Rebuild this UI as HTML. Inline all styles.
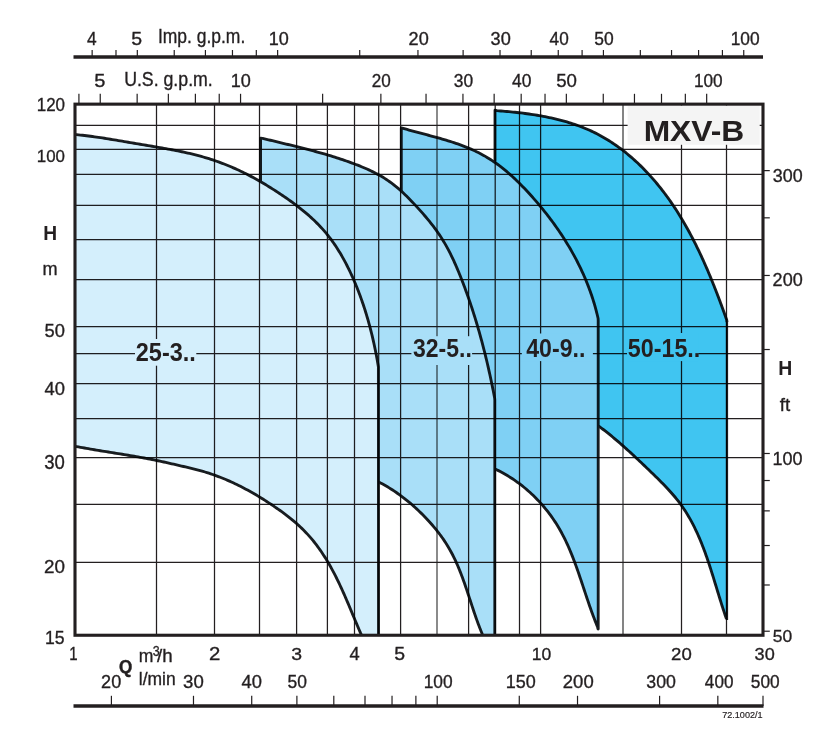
<!DOCTYPE html>
<html><head><meta charset="utf-8"><style>
html,body{margin:0;padding:0;width:832px;height:740px;overflow:hidden;background:#fff}
svg text{font-family:"Liberation Sans",sans-serif}
svg{will-change:transform}
</style></head><body>
<svg width="832" height="740" viewBox="0 0 832 740" style="position:absolute;left:0;top:0">
<rect x="0" y="0" width="832" height="740" fill="#ffffff"/>
<path fill="#40c5f1" d="M495.00,110.20 L496.97,110.67 L498.96,110.82 L500.95,110.98 L502.94,111.14 L504.94,111.31 L506.95,111.49 L508.95,111.67 L510.96,111.87 L512.97,112.07 L514.99,112.28 L517.00,112.50 L519.02,112.72 L521.03,112.96 L523.05,113.21 L525.07,113.47 L527.09,113.74 L529.11,114.02 L531.12,114.31 L533.14,114.62 L535.16,114.93 L537.17,115.26 L539.18,115.60 L541.19,115.96 L543.19,116.33 L545.20,116.71 L547.20,117.11 L549.19,117.53 L551.19,117.96 L553.17,118.40 L555.16,118.86 L557.13,119.34 L559.11,119.83 L561.07,120.34 L563.03,120.87 L564.99,121.42 L566.94,121.98 L568.88,122.57 L570.81,123.17 L572.73,123.79 L574.65,124.43 L576.56,125.09 L578.46,125.77 L580.35,126.48 L582.23,127.20 L584.11,127.95 L585.97,128.72 L587.82,129.51 L589.66,130.32 L591.49,131.15 L593.31,132.01 L595.11,132.90 L596.91,133.80 L598.69,134.73 L600.46,135.68 L602.22,136.66 L603.96,137.66 L605.70,138.68 L607.42,139.72 L609.13,140.78 L610.82,141.86 L612.51,142.96 L614.18,144.08 L615.84,145.23 L617.49,146.39 L619.12,147.57 L620.75,148.77 L622.36,149.98 L623.95,151.22 L625.54,152.47 L627.11,153.74 L628.67,155.03 L630.21,156.33 L631.75,157.65 L633.27,158.98 L634.77,160.33 L636.27,161.70 L637.75,163.08 L639.21,164.47 L640.67,165.88 L642.11,167.30 L643.54,168.74 L644.95,170.18 L646.35,171.64 L647.74,173.11 L649.11,174.60 L650.47,176.09 L651.82,177.60 L653.15,179.12 L654.47,180.65 L655.78,182.19 L657.07,183.74 L658.35,185.30 L659.62,186.87 L660.88,188.45 L662.12,190.04 L663.35,191.64 L664.57,193.25 L665.78,194.87 L666.97,196.50 L668.16,198.13 L669.33,199.78 L670.49,201.44 L671.64,203.10 L672.77,204.77 L673.90,206.45 L675.01,208.14 L676.12,209.84 L677.21,211.55 L678.29,213.26 L679.36,214.98 L680.42,216.70 L681.47,218.44 L682.51,220.18 L683.54,221.93 L684.56,223.68 L685.57,225.44 L686.57,227.21 L687.56,228.98 L688.54,230.76 L689.51,232.55 L690.47,234.34 L691.43,236.13 L692.37,237.93 L693.30,239.74 L694.23,241.55 L695.15,243.37 L696.05,245.19 L696.95,247.01 L697.84,248.84 L698.73,250.67 L699.60,252.51 L700.47,254.35 L701.33,256.19 L702.18,258.04 L703.02,259.89 L703.86,261.75 L704.68,263.60 L705.51,265.46 L706.32,267.33 L707.13,269.19 L707.93,271.06 L708.72,272.93 L709.50,274.80 L710.28,276.67 L711.06,278.54 L711.82,280.42 L712.58,282.29 L713.34,284.17 L714.09,286.05 L714.83,287.93 L715.57,289.81 L716.30,291.69 L717.02,293.57 L717.74,295.45 L718.46,297.33 L719.17,299.21 L719.87,301.09 L720.57,302.97 L721.27,304.84 L721.96,306.72 L722.64,308.60 L723.33,310.47 L724.00,312.34 L724.68,314.22 L725.34,316.09 L726.01,317.95 L726.67,319.82 L727.00,322.00 L727.00,619.00 L726.50,619.00 L725.76,617.08 L725.14,615.19 L724.54,613.30 L723.93,611.40 L723.33,609.50 L722.73,607.59 L722.13,605.68 L721.54,603.76 L720.95,601.84 L720.36,599.91 L719.77,597.99 L719.17,596.06 L718.58,594.12 L717.99,592.19 L717.40,590.25 L716.81,588.31 L716.21,586.37 L715.61,584.43 L715.01,582.49 L714.40,580.55 L713.79,578.61 L713.18,576.67 L712.56,574.73 L711.94,572.80 L711.31,570.86 L710.68,568.93 L710.04,566.99 L709.39,565.06 L708.74,563.14 L708.07,561.22 L707.40,559.30 L706.72,557.38 L706.04,555.47 L705.34,553.57 L704.63,551.67 L703.91,549.77 L703.18,547.88 L702.44,546.00 L701.69,544.12 L700.93,542.25 L700.15,540.39 L699.36,538.53 L698.56,536.69 L697.74,534.85 L696.91,533.02 L696.06,531.19 L695.20,529.38 L694.32,527.58 L693.43,525.79 L692.52,524.00 L691.59,522.23 L690.64,520.47 L689.68,518.72 L688.70,516.98 L687.70,515.26 L686.68,513.54 L685.64,511.84 L684.58,510.15 L683.50,508.48 L682.40,506.82 L681.28,505.17 L680.14,503.54 L678.97,501.92 L677.78,500.31 L676.57,498.73 L675.33,497.16 L674.07,495.60 L672.79,494.06 L671.48,492.54 L670.15,491.03 L668.80,489.54 L667.43,488.06 L666.03,486.59 L664.63,485.14 L663.20,483.69 L661.76,482.26 L660.31,480.84 L658.84,479.42 L657.37,478.02 L655.88,476.62 L654.39,475.22 L652.89,473.84 L651.39,472.45 L649.88,471.07 L648.37,469.70 L646.86,468.32 L645.34,466.95 L643.83,465.58 L642.33,464.20 L640.82,462.83 L639.32,461.45 L637.83,460.08 L636.35,458.69 L634.87,457.31 L633.41,455.91 L631.95,454.52 L630.50,453.12 L629.06,451.73 L627.62,450.33 L626.17,448.94 L624.73,447.55 L623.29,446.16 L621.84,444.79 L620.38,443.42 L618.92,442.06 L617.44,440.72 L615.96,439.38 L614.46,438.06 L612.94,436.76 L611.41,435.48 L609.86,434.21 L608.28,432.96 L606.69,431.74 L605.07,430.54 L603.42,429.36 L601.75,428.21 L600.05,427.09 L598.20,426.10 L598.00,400.00 L495.00,400.00Z"/>
<path fill="#7fd0f4" d="M401.30,127.80 L403.26,128.36 L405.17,128.92 L407.09,129.47 L409.01,130.01 L410.94,130.55 L412.88,131.08 L414.82,131.61 L416.76,132.13 L418.71,132.65 L420.67,133.17 L422.62,133.69 L424.58,134.21 L426.54,134.73 L428.50,135.25 L430.47,135.77 L432.43,136.30 L434.40,136.84 L436.36,137.38 L438.32,137.92 L440.28,138.48 L442.24,139.04 L444.20,139.61 L446.15,140.19 L448.10,140.79 L450.05,141.39 L451.99,142.01 L453.92,142.65 L455.85,143.30 L457.78,143.97 L459.70,144.65 L461.61,145.35 L463.51,146.07 L465.40,146.80 L467.28,147.56 L469.15,148.34 L471.01,149.14 L472.86,149.96 L474.69,150.80 L476.51,151.67 L478.31,152.56 L480.10,153.47 L481.88,154.41 L483.64,155.38 L485.38,156.38 L487.10,157.40 L488.81,158.44 L490.50,159.51 L492.17,160.61 L493.83,161.73 L495.47,162.87 L497.10,164.03 L498.71,165.22 L500.31,166.43 L501.90,167.66 L503.47,168.90 L505.02,170.17 L506.57,171.46 L508.09,172.76 L509.61,174.08 L511.12,175.42 L512.61,176.77 L514.09,178.14 L515.56,179.53 L517.02,180.93 L518.46,182.34 L519.90,183.76 L521.32,185.20 L522.74,186.65 L524.15,188.11 L525.54,189.58 L526.93,191.06 L528.31,192.55 L529.68,194.05 L531.04,195.55 L532.39,197.06 L533.74,198.58 L535.08,200.11 L536.40,201.65 L537.72,203.19 L539.03,204.74 L540.33,206.30 L541.63,207.87 L542.91,209.44 L544.18,211.02 L545.45,212.61 L546.70,214.20 L547.95,215.80 L549.18,217.41 L550.40,219.03 L551.62,220.65 L552.82,222.28 L554.02,223.92 L555.20,225.57 L556.37,227.22 L557.53,228.88 L558.68,230.55 L559.82,232.22 L560.95,233.90 L562.06,235.59 L563.16,237.28 L564.26,238.99 L565.34,240.69 L566.40,242.41 L567.46,244.13 L568.50,245.86 L569.54,247.60 L570.55,249.34 L571.56,251.09 L572.55,252.85 L573.53,254.61 L574.50,256.38 L575.45,258.16 L576.39,259.94 L577.32,261.74 L578.23,263.53 L579.13,265.34 L580.01,267.15 L580.88,268.96 L581.74,270.79 L582.58,272.62 L583.41,274.46 L584.22,276.30 L585.02,278.15 L585.80,280.01 L586.57,281.87 L587.32,283.74 L588.06,285.61 L588.78,287.50 L589.49,289.39 L590.18,291.28 L590.85,293.18 L591.51,295.09 L592.15,297.00 L592.78,298.92 L593.38,300.85 L593.98,302.78 L594.55,304.72 L595.11,306.67 L595.65,308.62 L596.18,310.57 L596.68,312.54 L597.17,314.51 L597.65,316.48 L598.10,318.46 L598.20,320.50 L598.20,629.00 L598.00,629.00 L597.58,626.96 L596.81,625.10 L596.05,623.24 L595.30,621.37 L594.57,619.49 L593.84,617.60 L593.13,615.71 L592.42,613.81 L591.73,611.91 L591.04,610.00 L590.36,608.09 L589.69,606.17 L589.03,604.25 L588.37,602.32 L587.71,600.39 L587.06,598.46 L586.41,596.53 L585.77,594.60 L585.12,592.66 L584.48,590.72 L583.84,588.79 L583.20,586.85 L582.56,584.91 L581.91,582.97 L581.27,581.04 L580.62,579.10 L579.96,577.17 L579.30,575.24 L578.64,573.31 L577.97,571.38 L577.30,569.46 L576.61,567.54 L575.92,565.62 L575.22,563.71 L574.51,561.80 L573.80,559.90 L573.07,558.01 L572.32,556.12 L571.57,554.23 L570.80,552.36 L570.02,550.49 L569.23,548.63 L568.42,546.77 L567.59,544.93 L566.75,543.09 L565.89,541.26 L565.01,539.44 L564.12,537.64 L563.20,535.84 L562.26,534.05 L561.31,532.27 L560.33,530.51 L559.33,528.76 L558.30,527.02 L557.26,525.29 L556.19,523.57 L555.09,521.87 L553.97,520.18 L552.83,518.51 L551.67,516.85 L550.48,515.21 L549.27,513.58 L548.04,511.96 L546.78,510.37 L545.51,508.78 L544.21,507.22 L542.89,505.67 L541.55,504.14 L540.19,502.63 L538.81,501.13 L537.41,499.65 L535.99,498.20 L534.55,496.76 L533.09,495.34 L531.61,493.94 L530.11,492.56 L528.59,491.20 L527.06,489.86 L525.51,488.54 L523.94,487.24 L522.35,485.97 L520.74,484.72 L519.12,483.49 L517.48,482.28 L515.83,481.10 L514.15,479.94 L512.47,478.80 L510.76,477.69 L509.04,476.60 L507.31,475.54 L505.56,474.51 L503.80,473.50 L502.02,472.51 L500.23,471.55 L498.42,470.62 L496.60,469.72 L494.80,468.80 L494.80,420.00 L401.30,420.00Z"/>
<path fill="#a9dff8" d="M260.60,138.10 L262.64,138.37 L264.58,138.85 L266.52,139.32 L268.47,139.79 L270.42,140.26 L272.37,140.73 L274.32,141.20 L276.28,141.67 L278.23,142.14 L280.19,142.61 L282.15,143.08 L284.11,143.56 L286.07,144.03 L288.03,144.50 L289.99,144.98 L291.95,145.46 L293.91,145.94 L295.87,146.43 L297.84,146.92 L299.80,147.41 L301.76,147.90 L303.72,148.40 L305.68,148.91 L307.64,149.41 L309.60,149.93 L311.55,150.45 L313.51,150.97 L315.46,151.50 L317.41,152.03 L319.37,152.58 L321.31,153.12 L323.26,153.68 L325.20,154.24 L327.15,154.81 L329.08,155.39 L331.02,155.98 L332.95,156.57 L334.88,157.17 L336.81,157.79 L338.73,158.41 L340.65,159.04 L342.57,159.68 L344.48,160.33 L346.39,160.99 L348.29,161.66 L350.19,162.35 L352.09,163.04 L353.98,163.75 L355.86,164.46 L357.74,165.19 L359.61,165.94 L361.48,166.70 L363.34,167.47 L365.19,168.26 L367.03,169.07 L368.86,169.90 L370.68,170.75 L372.48,171.62 L374.28,172.51 L376.06,173.43 L377.82,174.37 L379.57,175.33 L381.30,176.32 L383.02,177.34 L384.71,178.39 L386.39,179.47 L388.05,180.58 L389.69,181.72 L391.31,182.90 L392.91,184.10 L394.48,185.34 L396.04,186.60 L397.58,187.89 L399.11,189.20 L400.62,190.54 L402.11,191.90 L403.59,193.28 L405.05,194.68 L406.50,196.10 L407.94,197.53 L409.37,198.98 L410.79,200.43 L412.20,201.90 L413.60,203.38 L415.00,204.87 L416.38,206.36 L417.76,207.86 L419.13,209.36 L420.49,210.88 L421.85,212.40 L423.19,213.92 L424.52,215.46 L425.83,217.00 L427.14,218.55 L428.43,220.12 L429.71,221.69 L430.97,223.27 L432.21,224.86 L433.44,226.46 L434.65,228.07 L435.84,229.70 L437.02,231.33 L438.17,232.98 L439.30,234.64 L440.41,236.31 L441.50,238.00 L442.57,239.70 L443.62,241.41 L444.64,243.13 L445.65,244.87 L446.63,246.62 L447.59,248.38 L448.54,250.15 L449.46,251.93 L450.37,253.72 L451.27,255.52 L452.14,257.33 L453.00,259.15 L453.85,260.97 L454.68,262.80 L455.50,264.64 L456.31,266.49 L457.11,268.34 L457.89,270.20 L458.66,272.07 L459.43,273.93 L460.18,275.80 L460.93,277.68 L461.67,279.56 L462.40,281.44 L463.13,283.32 L463.84,285.21 L464.55,287.10 L465.26,288.99 L465.95,290.89 L466.64,292.79 L467.32,294.69 L468.00,296.59 L468.67,298.50 L469.33,300.40 L469.98,302.31 L470.63,304.23 L471.27,306.14 L471.90,308.06 L472.53,309.98 L473.15,311.90 L473.76,313.82 L474.37,315.75 L474.97,317.68 L475.56,319.61 L476.15,321.54 L476.73,323.48 L477.31,325.41 L477.87,327.35 L478.44,329.29 L478.99,331.23 L479.54,333.17 L480.09,335.12 L480.63,337.07 L481.16,339.01 L481.69,340.96 L482.21,342.91 L482.72,344.87 L483.23,346.82 L483.74,348.78 L484.23,350.73 L484.73,352.69 L485.21,354.65 L485.69,356.61 L486.17,358.57 L486.64,360.53 L487.11,362.50 L487.57,364.46 L488.02,366.43 L488.47,368.39 L488.91,370.36 L489.35,372.33 L489.79,374.30 L490.22,376.27 L490.64,378.24 L491.06,380.21 L491.47,382.18 L491.88,384.15 L492.29,386.12 L492.69,388.10 L493.08,390.07 L493.47,392.04 L493.86,394.02 L494.24,395.99 L494.62,397.97 L494.80,400.00 L494.80,635.25 L482.50,635.00 L481.80,633.07 L481.06,631.20 L480.34,629.31 L479.63,627.43 L478.93,625.53 L478.24,623.63 L477.55,621.73 L476.87,619.81 L476.20,617.90 L475.54,615.97 L474.88,614.05 L474.22,612.12 L473.57,610.19 L472.92,608.26 L472.27,606.32 L471.63,604.38 L470.98,602.44 L470.34,600.50 L469.69,598.57 L469.04,596.63 L468.39,594.69 L467.73,592.75 L467.07,590.82 L466.40,588.89 L465.73,586.96 L465.05,585.03 L464.36,583.11 L463.67,581.19 L462.96,579.28 L462.25,577.37 L461.52,575.47 L460.78,573.58 L460.03,571.69 L459.27,569.81 L458.49,567.93 L457.70,566.07 L456.89,564.21 L456.07,562.36 L455.23,560.52 L454.37,558.70 L453.49,556.88 L452.59,555.07 L451.67,553.28 L450.73,551.49 L449.77,549.72 L448.79,547.97 L447.78,546.22 L446.75,544.49 L445.69,542.78 L444.61,541.08 L443.50,539.40 L442.36,537.73 L441.20,536.07 L440.01,534.43 L438.80,532.81 L437.56,531.20 L436.31,529.61 L435.02,528.03 L433.72,526.47 L432.40,524.93 L431.05,523.39 L429.69,521.88 L428.31,520.38 L426.91,518.89 L425.49,517.42 L424.05,515.96 L422.60,514.52 L421.13,513.09 L419.65,511.68 L418.15,510.28 L416.64,508.90 L415.11,507.53 L413.57,506.18 L412.03,504.84 L410.47,503.51 L408.89,502.20 L407.31,500.90 L405.72,499.63 L404.12,498.36 L402.50,497.12 L400.88,495.89 L399.24,494.69 L397.59,493.50 L395.93,492.34 L394.26,491.19 L392.58,490.07 L390.89,488.97 L389.18,487.89 L387.47,486.84 L385.74,485.81 L384.00,484.81 L382.25,483.84 L380.48,482.89 L378.50,482.20 L378.50,400.00 L260.60,400.00Z"/>
<path fill="#d4effc" d="M74.50,134.50 L76.53,134.64 L78.53,134.84 L80.54,135.05 L82.54,135.27 L84.54,135.51 L86.53,135.75 L88.53,136.00 L90.52,136.26 L92.51,136.52 L94.50,136.80 L96.49,137.08 L98.48,137.37 L100.47,137.66 L102.45,137.96 L104.43,138.27 L106.42,138.58 L108.40,138.90 L110.38,139.22 L112.36,139.54 L114.34,139.87 L116.32,140.20 L118.30,140.54 L120.28,140.87 L122.26,141.21 L124.24,141.55 L126.23,141.89 L128.21,142.23 L130.19,142.58 L132.17,142.92 L134.16,143.26 L136.14,143.60 L138.13,143.94 L140.11,144.27 L142.10,144.61 L144.09,144.94 L146.08,145.27 L148.07,145.61 L150.06,145.94 L152.06,146.27 L154.05,146.61 L156.04,146.94 L158.03,147.28 L160.02,147.62 L162.01,147.97 L164.00,148.31 L165.99,148.67 L167.98,149.03 L169.96,149.39 L171.94,149.76 L173.93,150.14 L175.91,150.52 L177.88,150.92 L179.86,151.32 L181.83,151.73 L183.80,152.15 L185.76,152.58 L187.72,153.02 L189.68,153.47 L191.64,153.93 L193.59,154.41 L195.53,154.90 L197.48,155.40 L199.41,155.92 L201.35,156.45 L203.27,157.00 L205.20,157.56 L207.11,158.14 L209.02,158.73 L210.93,159.34 L212.83,159.97 L214.73,160.61 L216.62,161.26 L218.50,161.93 L220.38,162.62 L222.26,163.32 L224.12,164.04 L225.99,164.77 L227.84,165.52 L229.69,166.28 L231.54,167.06 L233.38,167.86 L235.21,168.67 L237.04,169.49 L238.86,170.33 L240.67,171.19 L242.48,172.06 L244.29,172.94 L246.08,173.84 L247.87,174.75 L249.66,175.68 L251.44,176.62 L253.21,177.57 L254.98,178.54 L256.74,179.52 L258.50,180.51 L260.25,181.51 L261.99,182.53 L263.73,183.55 L265.47,184.59 L267.20,185.63 L268.92,186.69 L270.64,187.75 L272.35,188.83 L274.06,189.91 L275.77,191.00 L277.46,192.10 L279.16,193.21 L280.84,194.33 L282.52,195.45 L284.20,196.59 L285.86,197.73 L287.52,198.89 L289.18,200.05 L290.82,201.23 L292.45,202.41 L294.07,203.61 L295.69,204.82 L297.29,206.04 L298.88,207.27 L300.46,208.52 L302.03,209.77 L303.58,211.04 L305.13,212.33 L306.65,213.63 L308.17,214.94 L309.67,216.26 L311.15,217.61 L312.62,218.96 L314.07,220.34 L315.51,221.72 L316.92,223.13 L318.32,224.55 L319.71,225.99 L321.07,227.44 L322.41,228.91 L323.74,230.40 L325.04,231.91 L326.33,233.44 L327.59,234.99 L328.83,236.55 L330.05,238.13 L331.25,239.73 L332.43,241.35 L333.59,242.99 L334.73,244.64 L335.85,246.30 L336.95,247.98 L338.03,249.68 L339.09,251.39 L340.14,253.11 L341.16,254.84 L342.17,256.59 L343.17,258.34 L344.14,260.11 L345.10,261.89 L346.04,263.68 L346.97,265.48 L347.88,267.28 L348.78,269.10 L349.66,270.92 L350.52,272.75 L351.38,274.59 L352.21,276.43 L353.04,278.27 L353.85,280.13 L354.64,281.98 L355.43,283.84 L356.20,285.71 L356.96,287.58 L357.70,289.45 L358.43,291.32 L359.15,293.21 L359.86,295.09 L360.56,296.98 L361.24,298.87 L361.91,300.77 L362.57,302.67 L363.22,304.57 L363.85,306.47 L364.48,308.38 L365.09,310.30 L365.69,312.21 L366.28,314.13 L366.86,316.06 L367.43,317.98 L367.99,319.91 L368.53,321.85 L369.07,323.78 L369.59,325.72 L370.11,327.66 L370.61,329.61 L371.11,331.55 L371.59,333.50 L372.07,335.45 L372.53,337.41 L372.99,339.36 L373.44,341.32 L373.87,343.29 L374.30,345.25 L374.72,347.22 L375.13,349.18 L375.53,351.15 L375.92,353.13 L376.30,355.10 L376.67,357.08 L377.04,359.06 L377.40,361.04 L377.74,363.02 L378.08,365.00 L378.40,367.00 L378.50,635.25 L361.50,635.00 L360.60,633.17 L359.81,631.34 L359.03,629.50 L358.25,627.65 L357.47,625.80 L356.69,623.95 L355.91,622.10 L355.14,620.24 L354.36,618.38 L353.59,616.52 L352.81,614.65 L352.04,612.79 L351.26,610.93 L350.48,609.06 L349.69,607.20 L348.90,605.33 L348.11,603.47 L347.32,601.60 L346.52,599.74 L345.71,597.89 L344.90,596.03 L344.08,594.18 L343.26,592.33 L342.42,590.48 L341.58,588.64 L340.73,586.80 L339.88,584.97 L339.01,583.14 L338.13,581.32 L337.24,579.50 L336.34,577.69 L335.43,575.89 L334.51,574.09 L333.57,572.31 L332.62,570.53 L331.66,568.75 L330.69,566.99 L329.69,565.24 L328.69,563.49 L327.66,561.76 L326.63,560.04 L325.57,558.32 L324.50,556.62 L323.41,554.93 L322.30,553.25 L321.17,551.59 L320.02,549.93 L318.86,548.29 L317.67,546.66 L316.46,545.05 L315.23,543.45 L313.98,541.87 L312.71,540.30 L311.42,538.75 L310.11,537.21 L308.78,535.69 L307.43,534.19 L306.06,532.71 L304.67,531.25 L303.26,529.80 L301.83,528.37 L300.38,526.97 L298.92,525.58 L297.43,524.22 L295.93,522.88 L294.41,521.56 L292.88,520.26 L291.32,518.98 L289.76,517.72 L288.17,516.48 L286.58,515.25 L284.97,514.04 L283.35,512.85 L281.72,511.67 L280.07,510.50 L278.42,509.34 L276.76,508.20 L275.09,507.06 L273.42,505.94 L271.74,504.82 L270.05,503.71 L268.36,502.60 L266.66,501.51 L264.95,500.42 L263.24,499.34 L261.52,498.27 L259.80,497.21 L258.07,496.16 L256.34,495.12 L254.60,494.09 L252.85,493.08 L251.10,492.07 L249.33,491.08 L247.57,490.10 L245.79,489.14 L244.01,488.18 L242.23,487.25 L240.43,486.32 L238.63,485.41 L236.83,484.52 L235.01,483.64 L233.19,482.78 L231.36,481.93 L229.53,481.11 L227.68,480.30 L225.83,479.50 L223.98,478.73 L222.11,477.98 L220.24,477.24 L218.36,476.52 L216.47,475.83 L214.58,475.15 L212.67,474.50 L210.76,473.86 L208.85,473.25 L206.92,472.65 L205.00,472.07 L203.06,471.50 L201.12,470.95 L199.18,470.41 L197.23,469.88 L195.28,469.37 L193.32,468.86 L191.37,468.37 L189.41,467.88 L187.45,467.39 L185.48,466.92 L183.52,466.44 L181.56,465.97 L179.59,465.50 L177.63,465.04 L175.67,464.58 L173.70,464.13 L171.73,463.68 L169.77,463.24 L167.80,462.80 L165.83,462.37 L163.86,461.94 L161.89,461.52 L159.92,461.11 L157.95,460.70 L155.97,460.30 L154.00,459.92 L152.02,459.53 L150.04,459.16 L148.06,458.79 L146.08,458.43 L144.10,458.07 L142.12,457.71 L140.14,457.36 L138.15,457.01 L136.17,456.67 L134.18,456.32 L132.19,455.98 L130.21,455.64 L128.22,455.31 L126.23,454.97 L124.24,454.64 L122.25,454.30 L120.26,453.97 L118.27,453.64 L116.28,453.31 L114.29,452.98 L112.30,452.65 L110.31,452.32 L108.32,451.99 L106.32,451.66 L104.33,451.33 L102.34,451.00 L100.35,450.67 L98.36,450.33 L96.37,450.00 L94.38,449.66 L92.39,449.33 L90.40,448.99 L88.41,448.65 L86.42,448.30 L84.43,447.96 L82.44,447.61 L80.46,447.26 L78.47,446.90 L76.49,446.55 L74.50,446.20Z"/>
<g style="mix-blend-mode:multiply"><line x1="156.5" y1="104" x2="156.5" y2="635" stroke="#231f20" stroke-width="1.25"/><line x1="214.5" y1="104" x2="214.5" y2="635" stroke="#231f20" stroke-width="1.25"/><line x1="259.5" y1="104" x2="259.5" y2="635" stroke="#231f20" stroke-width="1.25"/><line x1="296.6" y1="104" x2="296.6" y2="635" stroke="#231f20" stroke-width="1.25"/><line x1="327.4" y1="104" x2="327.4" y2="635" stroke="#231f20" stroke-width="1.25"/><line x1="354.5" y1="104" x2="354.5" y2="635" stroke="#231f20" stroke-width="1.25"/><line x1="378.7" y1="104" x2="378.7" y2="635" stroke="#231f20" stroke-width="1.25"/><line x1="400.6" y1="104" x2="400.6" y2="635" stroke="#231f20" stroke-width="1.25"/><line x1="437" y1="104" x2="437" y2="635" stroke="#858585" stroke-width="1.9"/><line x1="468.6" y1="104" x2="468.6" y2="635" stroke="#231f20" stroke-width="1.25"/><line x1="495.2" y1="104" x2="495.2" y2="635" stroke="#231f20" stroke-width="1.25"/><line x1="519.5" y1="104" x2="519.5" y2="635" stroke="#231f20" stroke-width="1.25"/><line x1="540.6" y1="104" x2="540.6" y2="635" stroke="#231f20" stroke-width="1.25"/><line x1="623" y1="104" x2="623" y2="635" stroke="#505050" stroke-width="1.4"/><line x1="681.5" y1="104" x2="681.5" y2="635" stroke="#231f20" stroke-width="1.25"/><line x1="726.5" y1="104" x2="726.5" y2="635" stroke="#231f20" stroke-width="1.25"/><line x1="74" y1="562.3" x2="764" y2="562.3" stroke="#231f20" stroke-width="1.25"/><line x1="74" y1="504.4" x2="764" y2="504.4" stroke="#231f20" stroke-width="1.25"/><line x1="74" y1="457.5" x2="764" y2="457.5" stroke="#231f20" stroke-width="1.25"/><line x1="74" y1="418.6" x2="764" y2="418.6" stroke="#231f20" stroke-width="1.25"/><line x1="74" y1="383.5" x2="764" y2="383.5" stroke="#231f20" stroke-width="1.25"/><line x1="74" y1="353.6" x2="764" y2="353.6" stroke="#231f20" stroke-width="1.25"/><line x1="74" y1="326.5" x2="764" y2="326.5" stroke="#231f20" stroke-width="1.25"/><line x1="74" y1="279.6" x2="764" y2="279.6" stroke="#231f20" stroke-width="1.25"/><line x1="74" y1="239.5" x2="764" y2="239.5" stroke="#231f20" stroke-width="1.25"/><line x1="74" y1="205.4" x2="764" y2="205.4" stroke="#231f20" stroke-width="1.25"/><line x1="74" y1="174.4" x2="764" y2="174.4" stroke="#231f20" stroke-width="1.25"/><line x1="74" y1="149.3" x2="764" y2="149.3" stroke="#231f20" stroke-width="1.25"/><line x1="74" y1="125.4" x2="764" y2="125.4" stroke="#231f20" stroke-width="1.25"/></g>
<rect x="135" y="339" width="61.3" height="26.7" fill="#d4effc"/>
<rect x="411.4" y="336.2" width="60.7" height="28.8" fill="#a9dff8"/>
<rect x="521.8" y="333.5" width="71.1" height="27.6" fill="#7fd0f4"/>
<rect x="627" y="333" width="71.3" height="28.1" fill="#40c5f1"/>
<g fill="none" stroke="#1a1d20" stroke-width="2.85" stroke-linejoin="round" style="mix-blend-mode:multiply">
<path d="M74.50,134.50 L76.53,134.64 L78.53,134.84 L80.54,135.05 L82.54,135.27 L84.54,135.51 L86.53,135.75 L88.53,136.00 L90.52,136.26 L92.51,136.52 L94.50,136.80 L96.49,137.08 L98.48,137.37 L100.47,137.66 L102.45,137.96 L104.43,138.27 L106.42,138.58 L108.40,138.90 L110.38,139.22 L112.36,139.54 L114.34,139.87 L116.32,140.20 L118.30,140.54 L120.28,140.87 L122.26,141.21 L124.24,141.55 L126.23,141.89 L128.21,142.23 L130.19,142.58 L132.17,142.92 L134.16,143.26 L136.14,143.60 L138.13,143.94 L140.11,144.27 L142.10,144.61 L144.09,144.94 L146.08,145.27 L148.07,145.61 L150.06,145.94 L152.06,146.27 L154.05,146.61 L156.04,146.94 L158.03,147.28 L160.02,147.62 L162.01,147.97 L164.00,148.31 L165.99,148.67 L167.98,149.03 L169.96,149.39 L171.94,149.76 L173.93,150.14 L175.91,150.52 L177.88,150.92 L179.86,151.32 L181.83,151.73 L183.80,152.15 L185.76,152.58 L187.72,153.02 L189.68,153.47 L191.64,153.93 L193.59,154.41 L195.53,154.90 L197.48,155.40 L199.41,155.92 L201.35,156.45 L203.27,157.00 L205.20,157.56 L207.11,158.14 L209.02,158.73 L210.93,159.34 L212.83,159.97 L214.73,160.61 L216.62,161.26 L218.50,161.93 L220.38,162.62 L222.26,163.32 L224.12,164.04 L225.99,164.77 L227.84,165.52 L229.69,166.28 L231.54,167.06 L233.38,167.86 L235.21,168.67 L237.04,169.49 L238.86,170.33 L240.67,171.19 L242.48,172.06 L244.29,172.94 L246.08,173.84 L247.87,174.75 L249.66,175.68 L251.44,176.62 L253.21,177.57 L254.98,178.54 L256.74,179.52 L258.50,180.51 L260.25,181.51 L261.99,182.53 L263.73,183.55 L265.47,184.59 L267.20,185.63 L268.92,186.69 L270.64,187.75 L272.35,188.83 L274.06,189.91 L275.77,191.00 L277.46,192.10 L279.16,193.21 L280.84,194.33 L282.52,195.45 L284.20,196.59 L285.86,197.73 L287.52,198.89 L289.18,200.05 L290.82,201.23 L292.45,202.41 L294.07,203.61 L295.69,204.82 L297.29,206.04 L298.88,207.27 L300.46,208.52 L302.03,209.77 L303.58,211.04 L305.13,212.33 L306.65,213.63 L308.17,214.94 L309.67,216.26 L311.15,217.61 L312.62,218.96 L314.07,220.34 L315.51,221.72 L316.92,223.13 L318.32,224.55 L319.71,225.99 L321.07,227.44 L322.41,228.91 L323.74,230.40 L325.04,231.91 L326.33,233.44 L327.59,234.99 L328.83,236.55 L330.05,238.13 L331.25,239.73 L332.43,241.35 L333.59,242.99 L334.73,244.64 L335.85,246.30 L336.95,247.98 L338.03,249.68 L339.09,251.39 L340.14,253.11 L341.16,254.84 L342.17,256.59 L343.17,258.34 L344.14,260.11 L345.10,261.89 L346.04,263.68 L346.97,265.48 L347.88,267.28 L348.78,269.10 L349.66,270.92 L350.52,272.75 L351.38,274.59 L352.21,276.43 L353.04,278.27 L353.85,280.13 L354.64,281.98 L355.43,283.84 L356.20,285.71 L356.96,287.58 L357.70,289.45 L358.43,291.32 L359.15,293.21 L359.86,295.09 L360.56,296.98 L361.24,298.87 L361.91,300.77 L362.57,302.67 L363.22,304.57 L363.85,306.47 L364.48,308.38 L365.09,310.30 L365.69,312.21 L366.28,314.13 L366.86,316.06 L367.43,317.98 L367.99,319.91 L368.53,321.85 L369.07,323.78 L369.59,325.72 L370.11,327.66 L370.61,329.61 L371.11,331.55 L371.59,333.50 L372.07,335.45 L372.53,337.41 L372.99,339.36 L373.44,341.32 L373.87,343.29 L374.30,345.25 L374.72,347.22 L375.13,349.18 L375.53,351.15 L375.92,353.13 L376.30,355.10 L376.67,357.08 L377.04,359.06 L377.40,361.04 L377.74,363.02 L378.08,365.00 L378.40,367.00 L378.50,635.00"/>
<path d="M74.50,446.20 L76.49,446.56 L78.47,446.93 L80.45,447.30 L82.44,447.66 L84.43,448.02 L86.41,448.37 L88.40,448.72 L90.39,449.06 L92.38,449.40 L94.37,449.73 L96.36,450.07 L98.35,450.40 L100.34,450.72 L102.34,451.05 L104.33,451.37 L106.32,451.69 L108.31,452.02 L110.30,452.34 L112.30,452.66 L114.29,452.98 L116.28,453.30 L118.27,453.62 L120.26,453.94 L122.25,454.26 L124.24,454.59 L126.23,454.91 L128.22,455.24 L130.21,455.58 L132.20,455.91 L134.19,456.25 L136.17,456.60 L138.16,456.94 L140.14,457.30 L142.13,457.65 L144.11,458.01 L146.09,458.38 L148.07,458.76 L150.05,459.14 L152.02,459.52 L154.00,459.92 L155.97,460.32 L157.95,460.73 L159.92,461.15 L161.89,461.57 L163.85,462.00 L165.82,462.43 L167.79,462.87 L169.75,463.32 L171.72,463.77 L173.68,464.22 L175.65,464.67 L177.61,465.13 L179.58,465.59 L181.54,466.05 L183.51,466.51 L185.47,466.97 L187.44,467.43 L189.41,467.90 L191.37,468.37 L193.33,468.85 L195.29,469.34 L197.24,469.84 L199.19,470.36 L201.14,470.89 L203.08,471.44 L205.01,472.00 L206.93,472.59 L208.85,473.20 L210.77,473.83 L212.67,474.48 L214.57,475.15 L216.46,475.84 L218.35,476.54 L220.22,477.27 L222.09,478.01 L223.96,478.77 L225.82,479.54 L227.67,480.34 L229.51,481.15 L231.35,481.98 L233.18,482.82 L235.00,483.68 L236.82,484.55 L238.63,485.44 L240.43,486.35 L242.23,487.27 L244.02,488.20 L245.80,489.15 L247.58,490.11 L249.35,491.08 L251.11,492.07 L252.87,493.07 L254.62,494.08 L256.36,495.10 L258.10,496.14 L259.83,497.18 L261.55,498.24 L263.27,499.31 L264.98,500.39 L266.68,501.48 L268.38,502.58 L270.07,503.68 L271.76,504.80 L273.43,505.93 L275.11,507.06 L276.77,508.21 L278.42,509.36 L280.07,510.53 L281.71,511.71 L283.33,512.90 L284.95,514.10 L286.55,515.32 L288.14,516.55 L289.72,517.79 L291.28,519.05 L292.83,520.33 L294.37,521.62 L295.89,522.94 L297.39,524.26 L298.88,525.61 L300.35,526.97 L301.80,528.36 L303.24,529.77 L304.65,531.19 L306.04,532.64 L307.42,534.11 L308.77,535.60 L310.10,537.11 L311.41,538.65 L312.70,540.20 L313.97,541.77 L315.22,543.36 L316.45,544.97 L317.66,546.59 L318.86,548.23 L320.03,549.88 L321.18,551.55 L322.32,553.23 L323.43,554.93 L324.53,556.63 L325.61,558.35 L326.67,560.07 L327.71,561.81 L328.74,563.55 L329.75,565.30 L330.74,567.06 L331.72,568.83 L332.68,570.60 L333.63,572.38 L334.56,574.17 L335.48,575.96 L336.38,577.76 L337.28,579.57 L338.16,581.38 L339.03,583.19 L339.89,585.01 L340.74,586.84 L341.59,588.67 L342.42,590.50 L343.25,592.34 L344.06,594.18 L344.88,596.03 L345.68,597.87 L346.48,599.72 L347.28,601.58 L348.07,603.43 L348.85,605.29 L349.64,607.15 L350.42,609.01 L351.20,610.87 L351.97,612.73 L352.75,614.59 L353.53,616.45 L354.31,618.32 L355.09,620.18 L355.87,622.04 L356.65,623.90 L357.44,625.76 L358.22,627.62 L359.02,629.48 L359.82,631.33 L360.62,633.18 L361.50,635.00"/>
<path d="M260.6,181.6 L260.60,138.10 L262.64,138.37 L264.58,138.85 L266.52,139.32 L268.47,139.79 L270.42,140.26 L272.37,140.73 L274.32,141.20 L276.28,141.67 L278.23,142.14 L280.19,142.61 L282.15,143.08 L284.11,143.56 L286.07,144.03 L288.03,144.50 L289.99,144.98 L291.95,145.46 L293.91,145.94 L295.87,146.43 L297.84,146.92 L299.80,147.41 L301.76,147.90 L303.72,148.40 L305.68,148.91 L307.64,149.41 L309.60,149.93 L311.55,150.45 L313.51,150.97 L315.46,151.50 L317.41,152.03 L319.37,152.58 L321.31,153.12 L323.26,153.68 L325.20,154.24 L327.15,154.81 L329.08,155.39 L331.02,155.98 L332.95,156.57 L334.88,157.17 L336.81,157.79 L338.73,158.41 L340.65,159.04 L342.57,159.68 L344.48,160.33 L346.39,160.99 L348.29,161.66 L350.19,162.35 L352.09,163.04 L353.98,163.75 L355.86,164.46 L357.74,165.19 L359.61,165.94 L361.48,166.70 L363.34,167.47 L365.19,168.26 L367.03,169.07 L368.86,169.90 L370.68,170.75 L372.48,171.62 L374.28,172.51 L376.06,173.43 L377.82,174.37 L379.57,175.33 L381.30,176.32 L383.02,177.34 L384.71,178.39 L386.39,179.47 L388.05,180.58 L389.69,181.72 L391.31,182.90 L392.91,184.10 L394.48,185.34 L396.04,186.60 L397.58,187.89 L399.11,189.20 L400.62,190.54 L402.11,191.90 L403.59,193.28 L405.05,194.68 L406.50,196.10 L407.94,197.53 L409.37,198.98 L410.79,200.43 L412.20,201.90 L413.60,203.38 L415.00,204.87 L416.38,206.36 L417.76,207.86 L419.13,209.36 L420.49,210.88 L421.85,212.40 L423.19,213.92 L424.52,215.46 L425.83,217.00 L427.14,218.55 L428.43,220.12 L429.71,221.69 L430.97,223.27 L432.21,224.86 L433.44,226.46 L434.65,228.07 L435.84,229.70 L437.02,231.33 L438.17,232.98 L439.30,234.64 L440.41,236.31 L441.50,238.00 L442.57,239.70 L443.62,241.41 L444.64,243.13 L445.65,244.87 L446.63,246.62 L447.59,248.38 L448.54,250.15 L449.46,251.93 L450.37,253.72 L451.27,255.52 L452.14,257.33 L453.00,259.15 L453.85,260.97 L454.68,262.80 L455.50,264.64 L456.31,266.49 L457.11,268.34 L457.89,270.20 L458.66,272.07 L459.43,273.93 L460.18,275.80 L460.93,277.68 L461.67,279.56 L462.40,281.44 L463.13,283.32 L463.84,285.21 L464.55,287.10 L465.26,288.99 L465.95,290.89 L466.64,292.79 L467.32,294.69 L468.00,296.59 L468.67,298.50 L469.33,300.40 L469.98,302.31 L470.63,304.23 L471.27,306.14 L471.90,308.06 L472.53,309.98 L473.15,311.90 L473.76,313.82 L474.37,315.75 L474.97,317.68 L475.56,319.61 L476.15,321.54 L476.73,323.48 L477.31,325.41 L477.87,327.35 L478.44,329.29 L478.99,331.23 L479.54,333.17 L480.09,335.12 L480.63,337.07 L481.16,339.01 L481.69,340.96 L482.21,342.91 L482.72,344.87 L483.23,346.82 L483.74,348.78 L484.23,350.73 L484.73,352.69 L485.21,354.65 L485.69,356.61 L486.17,358.57 L486.64,360.53 L487.11,362.50 L487.57,364.46 L488.02,366.43 L488.47,368.39 L488.91,370.36 L489.35,372.33 L489.79,374.30 L490.22,376.27 L490.64,378.24 L491.06,380.21 L491.47,382.18 L491.88,384.15 L492.29,386.12 L492.69,388.10 L493.08,390.07 L493.47,392.04 L493.86,394.02 L494.24,395.99 L494.62,397.97 L494.80,400.00 L494.80,635.00"/>
<path d="M378.50,482.20 L380.45,482.92 L382.22,483.86 L383.98,484.83 L385.73,485.83 L387.47,486.85 L389.19,487.89 L390.91,488.96 L392.61,490.05 L394.30,491.17 L395.98,492.30 L397.65,493.46 L399.30,494.64 L400.95,495.84 L402.58,497.06 L404.19,498.30 L405.80,499.56 L407.39,500.84 L408.96,502.14 L410.53,503.46 L412.08,504.79 L413.62,506.14 L415.14,507.50 L416.65,508.88 L418.14,510.28 L419.62,511.69 L421.09,513.12 L422.54,514.56 L423.98,516.01 L425.40,517.48 L426.80,518.96 L428.19,520.46 L429.57,521.96 L430.92,523.48 L432.26,525.02 L433.58,526.56 L434.88,528.12 L436.16,529.70 L437.42,531.29 L438.67,532.89 L439.89,534.50 L441.08,536.14 L442.26,537.78 L443.42,539.44 L444.55,541.11 L445.65,542.80 L446.74,544.50 L447.80,546.22 L448.83,547.95 L449.84,549.69 L450.82,551.45 L451.78,553.23 L452.71,555.01 L453.62,556.81 L454.50,558.63 L455.37,560.45 L456.21,562.29 L457.03,564.14 L457.84,566.00 L458.63,567.86 L459.40,569.74 L460.15,571.63 L460.89,573.52 L461.62,575.42 L462.33,577.33 L463.03,579.24 L463.73,581.16 L464.41,583.08 L465.08,585.01 L465.74,586.95 L466.40,588.88 L467.05,590.82 L467.70,592.76 L468.34,594.71 L468.98,596.65 L469.62,598.60 L470.26,600.54 L470.89,602.48 L471.53,604.43 L472.17,606.37 L472.81,608.31 L473.45,610.24 L474.11,612.18 L474.76,614.11 L475.42,616.03 L476.09,617.95 L476.77,619.86 L477.46,621.77 L478.16,623.67 L478.87,625.56 L479.60,627.44 L480.33,629.32 L481.09,631.19 L481.85,633.04 L482.50,635.00"/>
<path d="M401.3,191.6 L401.30,127.80 L403.26,128.36 L405.17,128.92 L407.09,129.47 L409.01,130.01 L410.94,130.55 L412.88,131.08 L414.82,131.61 L416.76,132.13 L418.71,132.65 L420.67,133.17 L422.62,133.69 L424.58,134.21 L426.54,134.73 L428.50,135.25 L430.47,135.77 L432.43,136.30 L434.40,136.84 L436.36,137.38 L438.32,137.92 L440.28,138.48 L442.24,139.04 L444.20,139.61 L446.15,140.19 L448.10,140.79 L450.05,141.39 L451.99,142.01 L453.92,142.65 L455.85,143.30 L457.78,143.97 L459.70,144.65 L461.61,145.35 L463.51,146.07 L465.40,146.80 L467.28,147.56 L469.15,148.34 L471.01,149.14 L472.86,149.96 L474.69,150.80 L476.51,151.67 L478.31,152.56 L480.10,153.47 L481.88,154.41 L483.64,155.38 L485.38,156.38 L487.10,157.40 L488.81,158.44 L490.50,159.51 L492.17,160.61 L493.83,161.73 L495.47,162.87 L497.10,164.03 L498.71,165.22 L500.31,166.43 L501.90,167.66 L503.47,168.90 L505.02,170.17 L506.57,171.46 L508.09,172.76 L509.61,174.08 L511.12,175.42 L512.61,176.77 L514.09,178.14 L515.56,179.53 L517.02,180.93 L518.46,182.34 L519.90,183.76 L521.32,185.20 L522.74,186.65 L524.15,188.11 L525.54,189.58 L526.93,191.06 L528.31,192.55 L529.68,194.05 L531.04,195.55 L532.39,197.06 L533.74,198.58 L535.08,200.11 L536.40,201.65 L537.72,203.19 L539.03,204.74 L540.33,206.30 L541.63,207.87 L542.91,209.44 L544.18,211.02 L545.45,212.61 L546.70,214.20 L547.95,215.80 L549.18,217.41 L550.40,219.03 L551.62,220.65 L552.82,222.28 L554.02,223.92 L555.20,225.57 L556.37,227.22 L557.53,228.88 L558.68,230.55 L559.82,232.22 L560.95,233.90 L562.06,235.59 L563.16,237.28 L564.26,238.99 L565.34,240.69 L566.40,242.41 L567.46,244.13 L568.50,245.86 L569.54,247.60 L570.55,249.34 L571.56,251.09 L572.55,252.85 L573.53,254.61 L574.50,256.38 L575.45,258.16 L576.39,259.94 L577.32,261.74 L578.23,263.53 L579.13,265.34 L580.01,267.15 L580.88,268.96 L581.74,270.79 L582.58,272.62 L583.41,274.46 L584.22,276.30 L585.02,278.15 L585.80,280.01 L586.57,281.87 L587.32,283.74 L588.06,285.61 L588.78,287.50 L589.49,289.39 L590.18,291.28 L590.85,293.18 L591.51,295.09 L592.15,297.00 L592.78,298.92 L593.38,300.85 L593.98,302.78 L594.55,304.72 L595.11,306.67 L595.65,308.62 L596.18,310.57 L596.68,312.54 L597.17,314.51 L597.65,316.48 L598.10,318.46 L598.20,320.50 L598.20,629.00 L598.00,629.00 L597.58,626.96 L596.81,625.10 L596.05,623.24 L595.30,621.37 L594.57,619.49 L593.84,617.60 L593.13,615.71 L592.42,613.81 L591.73,611.91 L591.04,610.00 L590.36,608.09 L589.69,606.17 L589.03,604.25 L588.37,602.32 L587.71,600.39 L587.06,598.46 L586.41,596.53 L585.77,594.60 L585.12,592.66 L584.48,590.72 L583.84,588.79 L583.20,586.85 L582.56,584.91 L581.91,582.97 L581.27,581.04 L580.62,579.10 L579.96,577.17 L579.30,575.24 L578.64,573.31 L577.97,571.38 L577.30,569.46 L576.61,567.54 L575.92,565.62 L575.22,563.71 L574.51,561.80 L573.80,559.90 L573.07,558.01 L572.32,556.12 L571.57,554.23 L570.80,552.36 L570.02,550.49 L569.23,548.63 L568.42,546.77 L567.59,544.93 L566.75,543.09 L565.89,541.26 L565.01,539.44 L564.12,537.64 L563.20,535.84 L562.26,534.05 L561.31,532.27 L560.33,530.51 L559.33,528.76 L558.30,527.02 L557.26,525.29 L556.19,523.57 L555.09,521.87 L553.97,520.18 L552.83,518.51 L551.67,516.85 L550.48,515.21 L549.27,513.58 L548.04,511.96 L546.78,510.37 L545.51,508.78 L544.21,507.22 L542.89,505.67 L541.55,504.14 L540.19,502.63 L538.81,501.13 L537.41,499.65 L535.99,498.20 L534.55,496.76 L533.09,495.34 L531.61,493.94 L530.11,492.56 L528.59,491.20 L527.06,489.86 L525.51,488.54 L523.94,487.24 L522.35,485.97 L520.74,484.72 L519.12,483.49 L517.48,482.28 L515.83,481.10 L514.15,479.94 L512.47,478.80 L510.76,477.69 L509.04,476.60 L507.31,475.54 L505.56,474.51 L503.80,473.50 L502.02,472.51 L500.23,471.55 L498.42,470.62 L496.60,469.72 L494.80,468.80"/>
<path d="M495,161.8 L495.00,110.20 L496.97,110.67 L498.96,110.82 L500.95,110.98 L502.94,111.14 L504.94,111.31 L506.95,111.49 L508.95,111.67 L510.96,111.87 L512.97,112.07 L514.99,112.28 L517.00,112.50 L519.02,112.72 L521.03,112.96 L523.05,113.21 L525.07,113.47 L527.09,113.74 L529.11,114.02 L531.12,114.31 L533.14,114.62 L535.16,114.93 L537.17,115.26 L539.18,115.60 L541.19,115.96 L543.19,116.33 L545.20,116.71 L547.20,117.11 L549.19,117.53 L551.19,117.96 L553.17,118.40 L555.16,118.86 L557.13,119.34 L559.11,119.83 L561.07,120.34 L563.03,120.87 L564.99,121.42 L566.94,121.98 L568.88,122.57 L570.81,123.17 L572.73,123.79 L574.65,124.43 L576.56,125.09 L578.46,125.77 L580.35,126.48 L582.23,127.20 L584.11,127.95 L585.97,128.72 L587.82,129.51 L589.66,130.32 L591.49,131.15 L593.31,132.01 L595.11,132.90 L596.91,133.80 L598.69,134.73 L600.46,135.68 L602.22,136.66 L603.96,137.66 L605.70,138.68 L607.42,139.72 L609.13,140.78 L610.82,141.86 L612.51,142.96 L614.18,144.08 L615.84,145.23 L617.49,146.39 L619.12,147.57 L620.75,148.77 L622.36,149.98 L623.95,151.22 L625.54,152.47 L627.11,153.74 L628.67,155.03 L630.21,156.33 L631.75,157.65 L633.27,158.98 L634.77,160.33 L636.27,161.70 L637.75,163.08 L639.21,164.47 L640.67,165.88 L642.11,167.30 L643.54,168.74 L644.95,170.18 L646.35,171.64 L647.74,173.11 L649.11,174.60 L650.47,176.09 L651.82,177.60 L653.15,179.12 L654.47,180.65 L655.78,182.19 L657.07,183.74 L658.35,185.30 L659.62,186.87 L660.88,188.45 L662.12,190.04 L663.35,191.64 L664.57,193.25 L665.78,194.87 L666.97,196.50 L668.16,198.13 L669.33,199.78 L670.49,201.44 L671.64,203.10 L672.77,204.77 L673.90,206.45 L675.01,208.14 L676.12,209.84 L677.21,211.55 L678.29,213.26 L679.36,214.98 L680.42,216.70 L681.47,218.44 L682.51,220.18 L683.54,221.93 L684.56,223.68 L685.57,225.44 L686.57,227.21 L687.56,228.98 L688.54,230.76 L689.51,232.55 L690.47,234.34 L691.43,236.13 L692.37,237.93 L693.30,239.74 L694.23,241.55 L695.15,243.37 L696.05,245.19 L696.95,247.01 L697.84,248.84 L698.73,250.67 L699.60,252.51 L700.47,254.35 L701.33,256.19 L702.18,258.04 L703.02,259.89 L703.86,261.75 L704.68,263.60 L705.51,265.46 L706.32,267.33 L707.13,269.19 L707.93,271.06 L708.72,272.93 L709.50,274.80 L710.28,276.67 L711.06,278.54 L711.82,280.42 L712.58,282.29 L713.34,284.17 L714.09,286.05 L714.83,287.93 L715.57,289.81 L716.30,291.69 L717.02,293.57 L717.74,295.45 L718.46,297.33 L719.17,299.21 L719.87,301.09 L720.57,302.97 L721.27,304.84 L721.96,306.72 L722.64,308.60 L723.33,310.47 L724.00,312.34 L724.68,314.22 L725.34,316.09 L726.01,317.95 L726.67,319.82 L727.00,322.00"/>
<path d="M598.20,426.10 L600.05,427.07 L601.65,428.28 L603.25,429.50 L604.83,430.72 L606.41,431.96 L607.98,433.21 L609.54,434.47 L611.10,435.73 L612.64,437.01 L614.19,438.29 L615.72,439.59 L617.25,440.89 L618.78,442.20 L620.29,443.51 L621.81,444.84 L623.32,446.17 L624.82,447.51 L626.32,448.85 L627.82,450.20 L629.31,451.56 L630.80,452.92 L632.28,454.29 L633.76,455.66 L635.24,457.03 L636.72,458.42 L638.19,459.80 L639.66,461.19 L641.13,462.58 L642.60,463.98 L644.07,465.38 L645.53,466.78 L647.00,468.18 L648.46,469.59 L649.93,471.00 L651.39,472.41 L652.86,473.82 L654.32,475.24 L655.77,476.66 L657.22,478.08 L658.67,479.51 L660.11,480.94 L661.54,482.38 L662.96,483.83 L664.37,485.29 L665.77,486.75 L667.16,488.22 L668.53,489.71 L669.89,491.20 L671.24,492.70 L672.56,494.21 L673.87,495.74 L675.16,497.28 L676.43,498.83 L677.68,500.40 L678.90,501.98 L680.11,503.58 L681.28,505.19 L682.43,506.82 L683.56,508.46 L684.67,510.12 L685.75,511.80 L686.81,513.49 L687.84,515.19 L688.85,516.91 L689.85,518.64 L690.82,520.38 L691.77,522.14 L692.71,523.91 L693.62,525.69 L694.51,527.48 L695.39,529.28 L696.25,531.09 L697.10,532.91 L697.92,534.74 L698.73,536.59 L699.53,538.44 L700.31,540.30 L701.08,542.16 L701.83,544.04 L702.57,545.92 L703.30,547.81 L704.02,549.70 L704.72,551.60 L705.42,553.51 L706.10,555.42 L706.78,557.34 L707.44,559.26 L708.10,561.19 L708.75,563.12 L709.39,565.05 L710.02,566.99 L710.65,568.93 L711.27,570.87 L711.89,572.81 L712.50,574.76 L713.10,576.70 L713.71,578.65 L714.31,580.59 L714.90,582.54 L715.50,584.48 L716.09,586.43 L716.69,588.37 L717.28,590.31 L717.87,592.25 L718.46,594.18 L719.05,596.11 L719.65,598.04 L720.25,599.97 L720.85,601.89 L721.45,603.81 L722.06,605.72 L722.67,607.62 L723.29,609.52 L723.91,611.42 L724.54,613.30 L725.17,615.18 L725.81,617.06 L726.50,619.00"/>
<line x1="727" y1="321" x2="727" y2="620" stroke-width="2.2"/>
</g>
<rect x="627.6" y="105.5" width="132.1" height="39.3" fill="#f4f4f4"/>
<text transform="translate(643.65,141.10) scale(1.0455,1)" font-size="30.40" font-weight="bold" fill="#231f20">MXV-B</text>
<rect x="75" y="104.15" width="688" height="531.1" fill="none" stroke="#231f20" stroke-width="3.1"/>
<line x1="73.5" y1="57" x2="763" y2="57" stroke="#231f20" stroke-width="3.6"/>
<line x1="73.5" y1="705.9" x2="763.5" y2="705.9" stroke="#231f20" stroke-width="3.5"/>
<line x1="92.15" y1="50" x2="92.15" y2="57" stroke="#231f20" stroke-width="1.2"/><line x1="115.99" y1="50" x2="115.99" y2="57" stroke="#231f20" stroke-width="1.2"/><line x1="137.32" y1="50" x2="137.32" y2="57" stroke="#231f20" stroke-width="1.2"/><line x1="174.23" y1="50" x2="174.23" y2="57" stroke="#231f20" stroke-width="1.2"/><line x1="205.43" y1="50" x2="205.43" y2="57" stroke="#231f20" stroke-width="1.2"/><line x1="232.46" y1="50" x2="232.46" y2="57" stroke="#231f20" stroke-width="1.2"/><line x1="256.31" y1="50" x2="256.31" y2="57" stroke="#231f20" stroke-width="1.2"/><line x1="277.63" y1="50" x2="277.63" y2="57" stroke="#231f20" stroke-width="1.2"/><line x1="359.71" y1="50" x2="359.71" y2="57" stroke="#231f20" stroke-width="1.2"/><line x1="417.95" y1="50" x2="417.95" y2="57" stroke="#231f20" stroke-width="1.2"/><line x1="463.12" y1="50" x2="463.12" y2="57" stroke="#231f20" stroke-width="1.2"/><line x1="500.02" y1="50" x2="500.02" y2="57" stroke="#231f20" stroke-width="1.2"/><line x1="531.23" y1="50" x2="531.23" y2="57" stroke="#231f20" stroke-width="1.2"/><line x1="558.26" y1="50" x2="558.26" y2="57" stroke="#231f20" stroke-width="1.2"/><line x1="582.10" y1="50" x2="582.10" y2="57" stroke="#231f20" stroke-width="1.2"/><line x1="603.43" y1="50" x2="603.43" y2="57" stroke="#231f20" stroke-width="1.2"/><line x1="640.34" y1="50" x2="640.34" y2="57" stroke="#231f20" stroke-width="1.2"/><line x1="671.54" y1="50" x2="671.54" y2="57" stroke="#231f20" stroke-width="1.2"/><line x1="698.57" y1="50" x2="698.57" y2="57" stroke="#231f20" stroke-width="1.2"/><line x1="722.42" y1="50" x2="722.42" y2="57" stroke="#231f20" stroke-width="1.2"/><line x1="743.74" y1="50" x2="743.74" y2="57" stroke="#231f20" stroke-width="1.2"/><line x1="78.92" y1="93.8" x2="78.92" y2="104" stroke="#231f20" stroke-width="1.2"/><line x1="100.24" y1="93.8" x2="100.24" y2="104" stroke="#231f20" stroke-width="1.2"/><line x1="137.15" y1="93.8" x2="137.15" y2="104" stroke="#231f20" stroke-width="1.2"/><line x1="168.36" y1="93.8" x2="168.36" y2="104" stroke="#231f20" stroke-width="1.2"/><line x1="195.39" y1="93.8" x2="195.39" y2="104" stroke="#231f20" stroke-width="1.2"/><line x1="219.23" y1="93.8" x2="219.23" y2="104" stroke="#231f20" stroke-width="1.2"/><line x1="240.56" y1="93.8" x2="240.56" y2="104" stroke="#231f20" stroke-width="1.2"/><line x1="322.63" y1="93.8" x2="322.63" y2="104" stroke="#231f20" stroke-width="1.2"/><line x1="380.87" y1="93.8" x2="380.87" y2="104" stroke="#231f20" stroke-width="1.2"/><line x1="426.04" y1="93.8" x2="426.04" y2="104" stroke="#231f20" stroke-width="1.2"/><line x1="462.95" y1="93.8" x2="462.95" y2="104" stroke="#231f20" stroke-width="1.2"/><line x1="494.15" y1="93.8" x2="494.15" y2="104" stroke="#231f20" stroke-width="1.2"/><line x1="521.18" y1="93.8" x2="521.18" y2="104" stroke="#231f20" stroke-width="1.2"/><line x1="545.03" y1="93.8" x2="545.03" y2="104" stroke="#231f20" stroke-width="1.2"/><line x1="566.35" y1="93.8" x2="566.35" y2="104" stroke="#231f20" stroke-width="1.2"/><line x1="603.26" y1="93.8" x2="603.26" y2="104" stroke="#231f20" stroke-width="1.2"/><line x1="634.46" y1="93.8" x2="634.46" y2="104" stroke="#231f20" stroke-width="1.2"/><line x1="661.50" y1="93.8" x2="661.50" y2="104" stroke="#231f20" stroke-width="1.2"/><line x1="685.34" y1="93.8" x2="685.34" y2="104" stroke="#231f20" stroke-width="1.2"/><line x1="706.67" y1="93.8" x2="706.67" y2="104" stroke="#231f20" stroke-width="1.2"/><line x1="111.41" y1="695.8" x2="111.41" y2="706" stroke="#231f20" stroke-width="1.2"/><line x1="193.48" y1="695.8" x2="193.48" y2="706" stroke="#231f20" stroke-width="1.2"/><line x1="251.72" y1="695.8" x2="251.72" y2="706" stroke="#231f20" stroke-width="1.2"/><line x1="296.89" y1="695.8" x2="296.89" y2="706" stroke="#231f20" stroke-width="1.2"/><line x1="333.80" y1="695.8" x2="333.80" y2="706" stroke="#231f20" stroke-width="1.2"/><line x1="365.00" y1="695.8" x2="365.00" y2="706" stroke="#231f20" stroke-width="1.2"/><line x1="392.03" y1="695.8" x2="392.03" y2="706" stroke="#231f20" stroke-width="1.2"/><line x1="415.88" y1="695.8" x2="415.88" y2="706" stroke="#231f20" stroke-width="1.2"/><line x1="437.20" y1="695.8" x2="437.20" y2="706" stroke="#231f20" stroke-width="1.2"/><line x1="519.28" y1="695.8" x2="519.28" y2="706" stroke="#231f20" stroke-width="1.2"/><line x1="577.52" y1="695.8" x2="577.52" y2="706" stroke="#231f20" stroke-width="1.2"/><line x1="659.59" y1="695.8" x2="659.59" y2="706" stroke="#231f20" stroke-width="1.2"/><line x1="717.83" y1="695.8" x2="717.83" y2="706" stroke="#231f20" stroke-width="1.2"/><line x1="763.00" y1="695.8" x2="763.00" y2="706" stroke="#231f20" stroke-width="1.2"/><line x1="763" y1="631.22" x2="769.8" y2="631.22" stroke="#231f20" stroke-width="1.2"/><line x1="763" y1="584.99" x2="769.8" y2="584.99" stroke="#231f20" stroke-width="1.2"/><line x1="763" y1="545.52" x2="769.8" y2="545.52" stroke="#231f20" stroke-width="1.2"/><line x1="763" y1="510.87" x2="769.8" y2="510.87" stroke="#231f20" stroke-width="1.2"/><line x1="763" y1="480.52" x2="769.8" y2="480.52" stroke="#231f20" stroke-width="1.2"/><line x1="763" y1="453.49" x2="769.8" y2="453.49" stroke="#231f20" stroke-width="1.2"/><line x1="763" y1="349.52" x2="769.8" y2="349.52" stroke="#231f20" stroke-width="1.2"/><line x1="763" y1="275.47" x2="769.8" y2="275.47" stroke="#231f20" stroke-width="1.2"/><line x1="763" y1="217.83" x2="769.8" y2="217.83" stroke="#231f20" stroke-width="1.2"/><line x1="763" y1="170.62" x2="769.8" y2="170.62" stroke="#231f20" stroke-width="1.2"/>
<g font-family="Liberation Sans, sans-serif"><text transform="translate(87.11,45.20) scale(0.9380,1)" font-size="18.47" font-weight="normal" fill="#231f20" stroke="#231f20" stroke-width="0.350">4</text><text transform="translate(131.22,45.02) scale(1.0695,1)" font-size="18.21" font-weight="normal" fill="#231f20" stroke="#231f20" stroke-width="0.350">5</text><text transform="translate(268.65,45.02) scale(1.0053,1)" font-size="17.95" font-weight="normal" fill="#231f20" stroke="#231f20" stroke-width="0.349">10</text><text transform="translate(408.60,45.02) scale(1.0079,1)" font-size="17.95" font-weight="normal" fill="#231f20" stroke="#231f20" stroke-width="0.349">20</text><text transform="translate(490.57,45.02) scale(1.0092,1)" font-size="17.95" font-weight="normal" fill="#231f20" stroke="#231f20" stroke-width="0.349">30</text><text transform="translate(549.61,45.02) scale(0.9550,1)" font-size="17.95" font-weight="normal" fill="#231f20" stroke="#231f20" stroke-width="0.349">40</text><text transform="translate(594.30,45.02) scale(0.9712,1)" font-size="17.95" font-weight="normal" fill="#231f20" stroke="#231f20" stroke-width="0.349">50</text><text transform="translate(730.70,45.02) scale(0.9673,1)" font-size="17.95" font-weight="normal" fill="#231f20" stroke="#231f20" stroke-width="0.349">100</text><text transform="translate(157.88,43.44) scale(0.8939,1)" font-size="19.55" font-weight="normal" fill="#231f20" stroke="#231f20" stroke-width="0.350">Imp. g.p.m.</text><text transform="translate(94.20,87.01) scale(1.0489,1)" font-size="19.07" font-weight="normal" fill="#231f20" stroke="#231f20" stroke-width="0.350">5</text><text transform="translate(230.65,87.01) scale(0.9599,1)" font-size="18.80" font-weight="normal" fill="#231f20" stroke="#231f20" stroke-width="0.350">10</text><text transform="translate(371.64,87.01) scale(0.9104,1)" font-size="18.80" font-weight="normal" fill="#231f20" stroke="#231f20" stroke-width="0.350">20</text><text transform="translate(453.85,87.01) scale(0.9251,1)" font-size="18.80" font-weight="normal" fill="#231f20" stroke="#231f20" stroke-width="0.350">30</text><text transform="translate(512.11,87.01) scale(0.9246,1)" font-size="18.80" font-weight="normal" fill="#231f20" stroke="#231f20" stroke-width="0.350">40</text><text transform="translate(556.25,87.01) scale(0.9918,1)" font-size="18.80" font-weight="normal" fill="#231f20" stroke="#231f20" stroke-width="0.350">50</text><text transform="translate(693.96,87.01) scale(0.9151,1)" font-size="18.80" font-weight="normal" fill="#231f20" stroke="#231f20" stroke-width="0.350">100</text><text transform="translate(124.13,86.49) scale(0.9172,1)" font-size="19.34" font-weight="normal" fill="#231f20" stroke="#231f20" stroke-width="0.350">U.S. g.p.m.</text><text transform="translate(69.37,660.20) scale(0.8469,1)" font-size="17.75" font-weight="normal" fill="#231f20" stroke="#231f20" stroke-width="0.345">1</text><text transform="translate(208.98,660.20) scale(1.1623,1)" font-size="17.49" font-weight="normal" fill="#231f20" stroke="#231f20" stroke-width="0.340">2</text><text transform="translate(291.27,660.03) scale(1.1293,1)" font-size="17.24" font-weight="normal" fill="#231f20" stroke="#231f20" stroke-width="0.335">3</text><text transform="translate(349.59,660.20) scale(1.0322,1)" font-size="17.75" font-weight="normal" fill="#231f20" stroke="#231f20" stroke-width="0.345">4</text><text transform="translate(394.22,660.03) scale(1.1134,1)" font-size="17.49" font-weight="normal" fill="#231f20" stroke="#231f20" stroke-width="0.340">5</text><text transform="translate(531.68,660.03) scale(1.0174,1)" font-size="17.24" font-weight="normal" fill="#231f20" stroke="#231f20" stroke-width="0.335">10</text><text transform="translate(671.07,660.03) scale(1.0776,1)" font-size="17.24" font-weight="normal" fill="#231f20" stroke="#231f20" stroke-width="0.335">20</text><text transform="translate(754.57,660.03) scale(1.0506,1)" font-size="17.24" font-weight="normal" fill="#231f20" stroke="#231f20" stroke-width="0.335">30</text><text transform="translate(101.10,688.01) scale(0.9698,1)" font-size="18.66" font-weight="normal" fill="#231f20" stroke="#231f20" stroke-width="0.350">20</text><text transform="translate(183.05,688.01) scale(0.9969,1)" font-size="18.66" font-weight="normal" fill="#231f20" stroke="#231f20" stroke-width="0.350">30</text><text transform="translate(241.59,688.01) scale(0.9826,1)" font-size="18.66" font-weight="normal" fill="#231f20" stroke="#231f20" stroke-width="0.350">40</text><text transform="translate(287.55,688.01) scale(0.9344,1)" font-size="18.66" font-weight="normal" fill="#231f20" stroke="#231f20" stroke-width="0.350">50</text><text transform="translate(423.70,688.01) scale(0.9306,1)" font-size="18.66" font-weight="normal" fill="#231f20" stroke="#231f20" stroke-width="0.350">100</text><text transform="translate(505.65,688.01) scale(0.9651,1)" font-size="18.66" font-weight="normal" fill="#231f20" stroke="#231f20" stroke-width="0.350">150</text><text transform="translate(562.82,688.01) scale(0.9923,1)" font-size="18.66" font-weight="normal" fill="#231f20" stroke="#231f20" stroke-width="0.350">200</text><text transform="translate(646.33,688.01) scale(0.9508,1)" font-size="18.66" font-weight="normal" fill="#231f20" stroke="#231f20" stroke-width="0.350">300</text><text transform="translate(704.87,688.01) scale(0.9169,1)" font-size="18.66" font-weight="normal" fill="#231f20" stroke="#231f20" stroke-width="0.350">400</text><text transform="translate(750.81,688.01) scale(0.9270,1)" font-size="18.66" font-weight="normal" fill="#231f20" stroke="#231f20" stroke-width="0.350">500</text><text transform="translate(119.12,672.72) scale(0.9691,1)" font-size="17.67" font-weight="bold" fill="#231f20" stroke="#231f20" stroke-width="0.45">Q</text><text transform="translate(138.81,662.00) scale(0.9445,1)" font-size="18.60" font-weight="normal" fill="#231f20" stroke="#231f20" stroke-width="0.350">m</text><text transform="translate(152.63,656.16) scale(0.8967,1)" font-size="13.85" font-weight="normal" fill="#231f20" stroke="#231f20" stroke-width="0.269">3</text><text transform="translate(157.10,661.81) scale(0.9960,1)" font-size="18.78" font-weight="normal" fill="#231f20" stroke="#231f20" stroke-width="0.350">/h</text><text transform="translate(138.82,684.51) scale(0.9240,1)" font-size="18.91" font-weight="normal" fill="#231f20" stroke="#231f20" stroke-width="0.350">l/min</text><text transform="translate(722.14,717.80) scale(0.9424,1)" font-size="9.66" font-weight="normal" fill="#231f20" stroke="#231f20" stroke-width="0.188">72.1002/1</text><text transform="translate(36.73,111.06) scale(0.9065,1)" font-size="18.73" font-weight="normal" fill="#231f20" stroke="#231f20" stroke-width="0.350">120</text><text transform="translate(36.73,162.08) scale(0.9768,1)" font-size="17.31" font-weight="normal" fill="#231f20" stroke="#231f20" stroke-width="0.337">100</text><text transform="translate(44.57,337.21) scale(0.9665,1)" font-size="18.94" font-weight="normal" fill="#231f20" stroke="#231f20" stroke-width="0.350">50</text><text transform="translate(44.49,394.91) scale(0.9778,1)" font-size="18.80" font-weight="normal" fill="#231f20" stroke="#231f20" stroke-width="0.350">40</text><text transform="translate(44.30,469.20) scale(0.9243,1)" font-size="20.07" font-weight="normal" fill="#231f20" stroke="#231f20" stroke-width="0.350">30</text><text transform="translate(43.96,573.21) scale(0.9966,1)" font-size="18.94" font-weight="normal" fill="#231f20" stroke="#231f20" stroke-width="0.350">20</text><text transform="translate(45.08,643.81) scale(0.9437,1)" font-size="18.64" font-weight="normal" fill="#231f20" stroke="#231f20" stroke-width="0.350">15</text><text transform="translate(43.30,239.70) scale(0.9795,1)" font-size="19.64" font-weight="bold" fill="#231f20">H</text><text transform="translate(42.58,274.90) scale(0.9468,1)" font-size="19.16" font-weight="normal" fill="#231f20" stroke="#231f20" stroke-width="0.350">m</text><text transform="translate(772.83,181.81) scale(0.9556,1)" font-size="18.73" font-weight="normal" fill="#231f20" stroke="#231f20" stroke-width="0.350">300</text><text transform="translate(772.60,285.56) scale(0.9632,1)" font-size="18.73" font-weight="normal" fill="#231f20" stroke="#231f20" stroke-width="0.350">200</text><text transform="translate(772.55,465.01) scale(0.9367,1)" font-size="19.22" font-weight="normal" fill="#231f20" stroke="#231f20" stroke-width="0.350">100</text><text transform="translate(772.80,642.34) scale(1.0964,1)" font-size="15.90" font-weight="normal" fill="#231f20" stroke="#231f20" stroke-width="0.309">50</text><text transform="translate(778.29,375.00) scale(0.9667,1)" font-size="20.07" font-weight="bold" fill="#231f20">H</text><text transform="translate(779.72,410.86) scale(1.0307,1)" font-size="18.22" font-weight="normal" fill="#231f20" stroke="#231f20" stroke-width="0.350">ft</text><text transform="translate(135.78,361.17) scale(0.8924,1)" font-size="26.34" font-weight="bold" fill="#231f20">25-3..</text><text transform="translate(412.98,356.97) scale(0.8740,1)" font-size="26.34" font-weight="bold" fill="#231f20">32-5..</text><text transform="translate(526.25,356.74) scale(0.8902,1)" font-size="26.01" font-weight="bold" fill="#231f20">40-9..</text><text transform="translate(627.80,356.94) scale(0.8929,1)" font-size="26.08" font-weight="bold" fill="#231f20">50-15..</text></g>
</svg>
</body></html>
